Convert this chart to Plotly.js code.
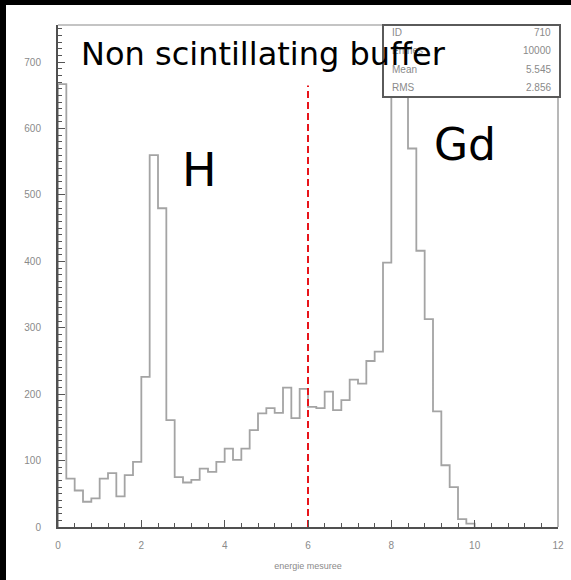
<!DOCTYPE html>
<html>
<head>
<meta charset="utf-8">
<script src="https://cdn.plot.ly/plotly-3.0.1.min.js"></script>
<style>
  html, body { margin: 0; padding: 0; background: #000; width: 571px; height: 580px; overflow: hidden; }
  #chart { position: absolute; left: 6px; top: 5px; width: 565px; height: 575px; }
</style>
</head>
<body>
<div id="chart"></div>
<script>
// ---- data ----
const binLow = 0;          // first bin lower edge
const binWidth = 0.2;      // bin width (energie mesuree)
const counts = [
  667, 73, 55, 38, 43, 73, 81, 46, 78, 98,
  226, 560, 480, 161, 75, 67, 71, 88, 83, 98,
  118, 101, 118, 146, 171, 179, 172, 210, 164, 208,
  181, 179, 204, 176, 191, 222, 216, 250, 264, 398,
  720, 660, 570, 416, 313, 174, 93, 60, 12, 5
];
const cutX = [6, 6];
const cutY = [0, 665];
const statLabels = ["ID", "Entries", "Mean", "RMS"];
const statValues = ["710", "10000", "5.545", "2.856"];
const xTicks = [0, 2, 4, 6, 8, 10, 12];
const yTicks = [0, 100, 200, 300, 400, 500, 600, 700];

// ---- build histogram outline ----
const hx = [binLow], hy = [0];
counts.forEach((c, i) => { hx.push(binLow + i * binWidth); hy.push(c); });
hx.push(binLow + counts.length * binWidth); hy.push(0);

const traces = [
  { x: hx, y: hy, type: 'scatter', mode: 'lines',
    line: { shape: 'hv', color: '#a4a4a4', width: 1.8 }, hoverinfo: 'skip' },
  { x: cutX, y: cutY, type: 'scatter', mode: 'lines',
    line: { color: '#e8141a', width: 2, dash: '7px,4px' }, hoverinfo: 'skip' }
];

const statRowsY = [33, 51, 69, 87]; // pixel rows in page
const plotTop = 25, plotBottom = 527, plotLeft = 58, plotRight = 558;
function py(p) { return (plotBottom - p) / (plotBottom - plotTop); }
function px(p) { return (p - plotLeft) / (plotRight - plotLeft); }

const annotations = [];
statLabels.forEach((s, i) => {
  annotations.push({ xref: 'paper', yref: 'paper', x: px(390), y: py(statRowsY[i]),
    xanchor: 'left', yanchor: 'middle', text: s, showarrow: false,
    font: { family: 'Liberation Sans, Arial, sans-serif', size: 10, color: '#8a8a8a' } });
  annotations.push({ xref: 'paper', yref: 'paper', x: px(553), y: py(statRowsY[i]),
    xanchor: 'right', yanchor: 'middle', text: statValues[i], showarrow: false,
    font: { family: 'Liberation Sans, Arial, sans-serif', size: 10, color: '#8a8a8a' } });
});
annotations.push({ xref: 'paper', yref: 'paper', x: px(79), y: py(54),
  xanchor: 'left', yanchor: 'middle', text: 'Non scintillating buffer', showarrow: false,
  font: { family: 'DejaVu Sans, sans-serif', size: 32, color: '#000' } });
annotations.push({ xref: 'paper', yref: 'paper', x: px(199), y: py(170),
  xanchor: 'center', yanchor: 'middle', text: 'H', showarrow: false,
  font: { family: 'DejaVu Sans, sans-serif', size: 46, color: '#000' } });
annotations.push({ xref: 'paper', yref: 'paper', x: px(465), y: py(144),
  xanchor: 'center', yanchor: 'middle', text: 'Gd', showarrow: false,
  font: { family: 'DejaVu Sans, sans-serif', size: 44, color: '#000' } });

const shapes = [
  // light frame top/right
  { type: 'line', xref: 'paper', yref: 'paper', x0: 0, x1: 1, y0: 1, y1: 1,
    line: { color: '#b0b0b0', width: 1.5 } },
  { type: 'line', xref: 'paper', yref: 'paper', x0: 1, x1: 1, y0: 0, y1: 1,
    line: { color: '#b8b8b8', width: 2 } },
  // stats box
  { type: 'rect', xref: 'paper', yref: 'paper', layer: 'above',
    x0: px(383), x1: px(560), y0: py(97), y1: py(25),
    fillcolor: '#ffffff', line: { color: '#5a5a5a', width: 2 } }
];

const tickFont = { family: 'Liberation Sans, Arial, sans-serif', size: 10, color: '#8a8a8a' };

const layout = {
  width: 565, height: 575,
  margin: { l: 52, r: 13, t: 20, b: 53, pad: 0 },
  paper_bgcolor: '#ffffff', plot_bgcolor: '#ffffff',
  showlegend: false,
  xaxis: {
    range: [0, 12], tickvals: xTicks, ticktext: xTicks.map(String),
    ticks: 'inside', ticklen: 7, tickwidth: 1, tickcolor: '#555',
    minor: { dtick: 0.4, tick0: 0, ticks: 'inside', ticklen: 4, tickcolor: '#555', tickwidth: 1 },
    showgrid: false, zeroline: false, showline: true, linecolor: '#505050', linewidth: 2,
    tickfont: tickFont, ticklabelstandoff: 8,
    title: { text: 'energie mesuree', font: { family: 'Liberation Sans, Arial, sans-serif', size: 9, color: '#8a8a8a' }, standoff: 13 }
  },
  yaxis: {
    range: [0, 756], tickvals: yTicks, ticktext: yTicks.map(String),
    ticks: 'inside', ticklen: 7, tickwidth: 1, tickcolor: '#555',
    minor: { dtick: 10, tick0: 0, ticks: 'inside', ticklen: 4, tickcolor: '#555', tickwidth: 1 },
    showgrid: false, zeroline: false, showline: true, linecolor: '#505050', linewidth: 2,
    tickfont: tickFont, ticklabelstandoff: 13
  },
  shapes: shapes,
  annotations: annotations
};

Plotly.newPlot('chart', traces, layout, { staticPlot: true, displayModeBar: false });
</script>
</body>
</html>
